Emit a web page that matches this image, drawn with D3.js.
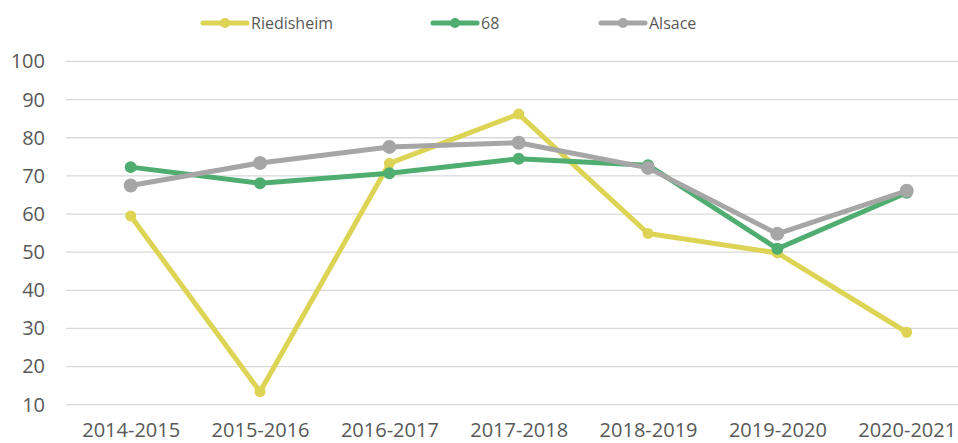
<!DOCTYPE html>
<html lang="fr">
  <head>
    <meta charset="utf-8"/>
    <style>
      body {
        margin: 0;
        background: #fff;
        font-family: "Open Sans", sans-serif;
      }
      .grid line {
        stroke: #d9d9d9;
        stroke-width: 1.3;
      }
      .axis text {
        fill: #595959;
        font-size: 20px;
      }
      .legend text {
        fill: #595959;
        font-size: 16px;
      }
    </style>
    <script src="https://cdn.jsdelivr.net/npm/d3@7"></script>
  </head>
  <body>
    <script type="text/javascript">
      // chart data
      var years = ["2014-2015", "2015-2016", "2016-2017", "2017-2018", "2018-2019", "2019-2020", "2020-2021"];
      var riedisheim = [59.5, 13.4, 73.3, 86.2, 54.9, 49.8, 29.0];
      var dept68 = [72.3, 68.1, 70.7, 74.5, 72.8, 50.9, 65.6];
      var alsace = [67.5, 73.4, 77.6, 78.7, 72.1, 54.8, 66.1];
      var yTicks = [10, 20, 30, 40, 50, 60, 70, 80, 90, 100];

      var series = [
        {name: "Riedisheim", values: riedisheim, color: "#ddd354", r: 5.5},
        {name: "68", values: dept68, color: "#4fad70", r: 6},
        {name: "Alsace", values: alsace, color: "#a6a6a6", r: 7}
      ];

      var w = 958;
      var h = 443;

      var svg = d3.select("body")
                  .append("svg")
                  .attr("width", w)
                  .attr("height", h);

      // scales
      var xScale = d3.scalePoint()
                     .domain(years)
                     .range([130.7, 906.7]);
      var step = xScale.step();
      var yScale = d3.scaleLinear()
                     .domain([10, 100])
                     .range([404.7, 61.5]);

      // horizontal grid lines
      svg.append("g")
         .attr("class", "grid")
         .selectAll("line")
         .data(yTicks)
         .enter()
         .append("line")
         .attr("x1", xScale(years[0]) - step / 2)
         .attr("x2", xScale(years[years.length - 1]) + step / 2)
         .attr("y1", function(d) { return yScale(d); })
         .attr("y2", function(d) { return yScale(d); });

      // y axis labels
      var yAxis = d3.axisLeft(yScale).tickValues(yTicks).tickSize(0).tickPadding(0);
      svg.append("g")
         .attr("class", "axis")
         .attr("transform", "translate(45,0)")
         .call(yAxis)
         .call(function(g) { g.select(".domain").remove(); });

      // x axis labels
      var xAxis = d3.axisBottom(xScale).tickSize(0).tickPadding(0);
      svg.append("g")
         .attr("class", "axis")
         .attr("transform", "translate(0,423)")
         .call(xAxis)
         .call(function(g) { g.select(".domain").remove(); });

      svg.selectAll(".axis").attr("font-family", null).attr("font-size", null);

      // lines and markers
      var line = d3.line()
                   .x(function(d, i) { return xScale(years[i]); })
                   .y(function(d) { return yScale(d); });

      series.forEach(function(s) {
        var g = svg.append("g");
        g.append("path")
         .datum(s.values)
         .attr("d", line)
         .attr("fill", "none")
         .attr("stroke", s.color)
         .attr("stroke-width", 5)
         .attr("stroke-linejoin", "round")
         .attr("stroke-linecap", "round");
        g.selectAll("circle")
         .data(s.values)
         .enter()
         .append("circle")
         .attr("cx", function(d, i) { return xScale(years[i]); })
         .attr("cy", function(d) { return yScale(d); })
         .attr("r", s.r)
         .attr("fill", s.color);
      });

      // legend
      var legendX = [203, 433, 601];
      var legend = svg.append("g").attr("class", "legend");
      series.forEach(function(s, i) {
        var lg = legend.append("g").attr("transform", "translate(" + legendX[i] + ",23)");
        lg.append("line")
          .attr("x1", 0)
          .attr("x2", 44)
          .attr("stroke", s.color)
          .attr("stroke-width", 5)
          .attr("stroke-linecap", "round");
        lg.append("circle")
          .attr("cx", 22)
          .attr("r", 5)
          .attr("fill", s.color);
        lg.append("text")
          .attr("x", 48)
          .attr("dy", "0.35em")
          .text(s.name);
      });
    </script>
  </body>
</html>
